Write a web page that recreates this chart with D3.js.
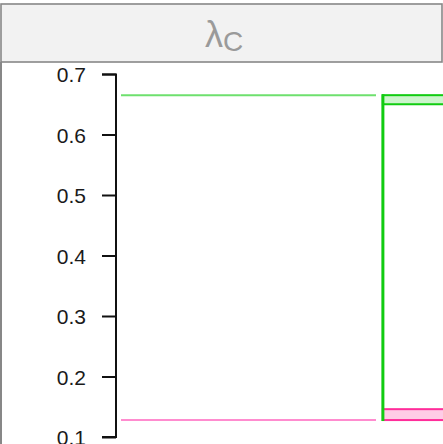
<!DOCTYPE html>
<html lang="en">
<head>
    <meta charset="utf-8">
    <title>lambda C</title>
    <script src="https://d3js.org/d3.v7.min.js"></script>
    <style>
        body { margin: 0; background: white; }
        svg { display: block; }
    </style>
</head>
<body>
    <div id="chart"></div>
    <script>
        // y ticks
        var yTicks = [0.1, 0.2, 0.3, 0.4, 0.5, 0.6, 0.7];
        // reference lines (left part of facet)
        var refValues = [0.665, 0.128];
        var refColors = ["#6ee06e", "#ff8ccf"];
        // boxes (right part of facet)
        var boxLow = [0.65, 0.128];
        var boxHigh = [0.665, 0.146];
        var boxStroke = ["#11cc11", "#ff2d9a"];
        var boxFill = ["#ccf5cc", "#ffcce6"];
        // vertical connector between the boxes
        var connector = [0.128, 0.665];

        var W = 443, H = 444;
        var svg = d3.select("#chart").append("svg").attr("width", W).attr("height", H);

        var y = d3.scaleLinear().domain([0.1, 0.7]).range([437, 74]);
        var x = d3.scaleLinear().domain([0, 1]).range([121, 376]);

        // strip
        svg.append("rect").attr("x", 1).attr("y", 4).attr("width", W - 2).attr("height", 58)
            .attr("fill", "#f2f2f2").attr("stroke", "#878787").attr("stroke-width", 1.6);
        var lab = svg.append("text").attr("x", 224).attr("y", 47)
            .attr("text-anchor", "middle")
            .attr("font-family", "Liberation Sans, Arial, sans-serif")
            .attr("fill", "#9a9a9a");
        lab.append("tspan").attr("font-size", 36).text("λ");
        lab.append("tspan").attr("font-size", 28).attr("dy", 4).text("C");

        // panel side border
        svg.append("line").attr("x1", 1).attr("x2", 1).attr("y1", 62).attr("y2", H)
            .attr("stroke", "#878787").attr("stroke-width", 2);

        // reference lines
        svg.selectAll(".ref").data(refValues).enter().append("line")
            .attr("x1", x(0)).attr("x2", x(1))
            .attr("y1", d => y(d)).attr("y2", d => y(d))
            .attr("stroke", (d, i) => refColors[i]).attr("stroke-width", 2);

        // boxes
        var bx = x(1.027);
        svg.selectAll(".box").data(boxLow).enter().append("rect")
            .attr("x", bx).attr("width", W - bx + 5)
            .attr("y", (d, i) => y(boxHigh[i]))
            .attr("height", (d, i) => y(d) - y(boxHigh[i]))
            .attr("fill", (d, i) => boxFill[i])
            .attr("stroke", (d, i) => boxStroke[i]).attr("stroke-width", 2);

        svg.append("line").attr("x1", bx).attr("x2", bx)
            .attr("y1", y(connector[0]) + 1).attr("y2", y(connector[1]) - 1)
            .attr("stroke", "#11cc11").attr("stroke-width", 3);

        // y axis
        var axis = svg.append("g").attr("transform", "translate(116,0)")
            .call(d3.axisLeft(y).tickValues(yTicks).tickFormat(d3.format(".1f")).tickSize(14).tickPadding(16));
        axis.select(".domain").attr("d", "M-14,74.5H0V437H-14").attr("stroke", "#111").attr("stroke-width", 2);
        axis.selectAll(".tick line").attr("stroke", "#111").attr("stroke-width", 2);
        axis.selectAll(".tick text").attr("dy", "0.36em").attr("fill", "#1a1a1a")
            .style("font-size", "21px").style("font-family", "Liberation Sans, Arial, sans-serif");
    </script>
</body>
</html>
